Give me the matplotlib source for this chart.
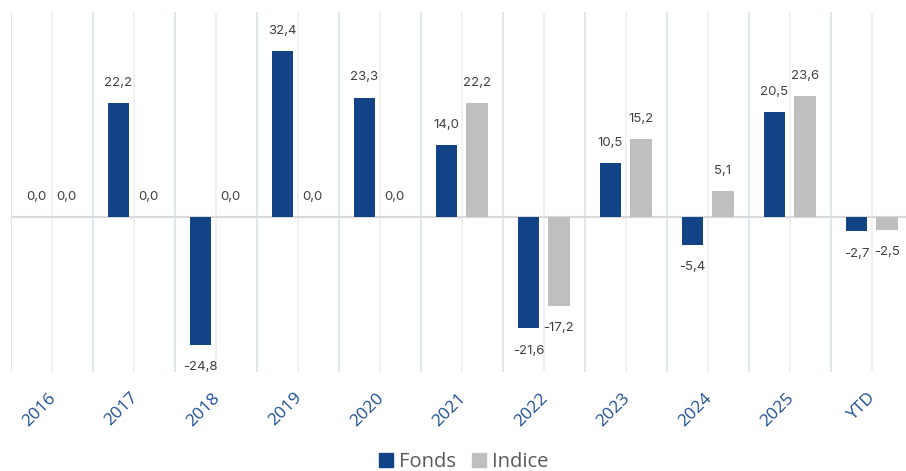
import matplotlib

matplotlib.use("Agg")
import matplotlib.pyplot as plt
import matplotlib.transforms as mtransforms
import numpy as np
from matplotlib.lines import Line2D

categories = ["2016", "2017", "2018", "2019", "2020", "2021", "2022", "2023", "2024", "2025", "YTD"]
fonds = [0.0, 22.2, -24.8, 32.4, 23.3, 14.0, -21.6, 10.5, -5.4, 20.5, -2.7]
indice = [0.0, 0.0, 0.0, 0.0, 0.0, 22.2, -17.2, 15.2, 5.1, 23.6, -2.5]

FONDS_COLOR = "#134387"
INDICE_COLOR = "#bfbfbf"
LABEL_COLOR = "#404040"
TICK_COLOR = "#1f4e96"

fig = plt.figure(figsize=(9.06, 4.71), dpi=100)
# the last category runs slightly past the right edge, as in the original
ax = fig.add_axes([10.7 / 906, 1 - 371.7 / 471, 902 / 906, 360 / 471])

x = np.arange(len(categories))
width = 0.265
offset = 0.185

# category boundaries and mid lines
for b in np.arange(-0.5, len(categories), 1.0):
    ax.axvline(b, color="#d5dfec", linewidth=1.1, zorder=0)
for c in x:
    ax.axvline(c, color="#ededed", linewidth=1.1, zorder=0)
ax.axhline(0, color="#d9d9d9", linewidth=1.6, zorder=1)

bars_f = ax.bar(x - offset, fonds, width, color=FONDS_COLOR, zorder=2)
bars_i = ax.bar(x + offset, indice, width, color=INDICE_COLOR, zorder=2)


def fmt(v):
    return f"{v:.1f}".replace(".", ",")


for bars, values in ((bars_f, fonds), (bars_i, indice)):
    for bar, v in zip(bars, values):
        dy = 14.5 if v >= 0 else -16
        ax.annotate(
            fmt(v),
            (bar.get_x() + bar.get_width() / 2, v),
            xytext=(0, dy),
            textcoords="offset points",
            ha="center",
            va="center",
            fontsize=9.5,
            family="Inter",
            color=LABEL_COLOR,
        )

ax.set_xlim(-0.5, 10.5)
ax.set_ylim(-30, 40)
ax.set_yticks([])
ax.set_xticks(x)
ax.set_xticklabels(
    categories, rotation=45, ha="right", rotation_mode="anchor",
    fontsize=12.5, family="Open Sans", color=TICK_COLOR,
)
ax.tick_params(axis="x", length=0, pad=13)
shift = mtransforms.ScaledTranslation(-3 / 72, 0, fig.dpi_scale_trans)
for lbl in ax.get_xticklabels():
    lbl.set_transform(lbl.get_transform() + shift)
for spine in ax.spines.values():
    spine.set_visible(False)

handles = [
    Line2D([], [], marker="s", linestyle="", markersize=10, color=FONDS_COLOR, label="Fonds"),
    Line2D([], [], marker="s", linestyle="", markersize=10, color=INDICE_COLOR, label="Indice"),
]
fig.legend(
    handles=handles,
    loc="center",
    bbox_to_anchor=(463.5 / 906, 0.019),
    ncol=2,
    frameon=False,
    handlelength=0.7,
    handletextpad=0.3,
    columnspacing=0.8,
    borderpad=0.1,
    prop={"family": "Open Sans", "size": 14.5},
    labelcolor="#595959",
)

fig.savefig("out.png", dpi=100)
